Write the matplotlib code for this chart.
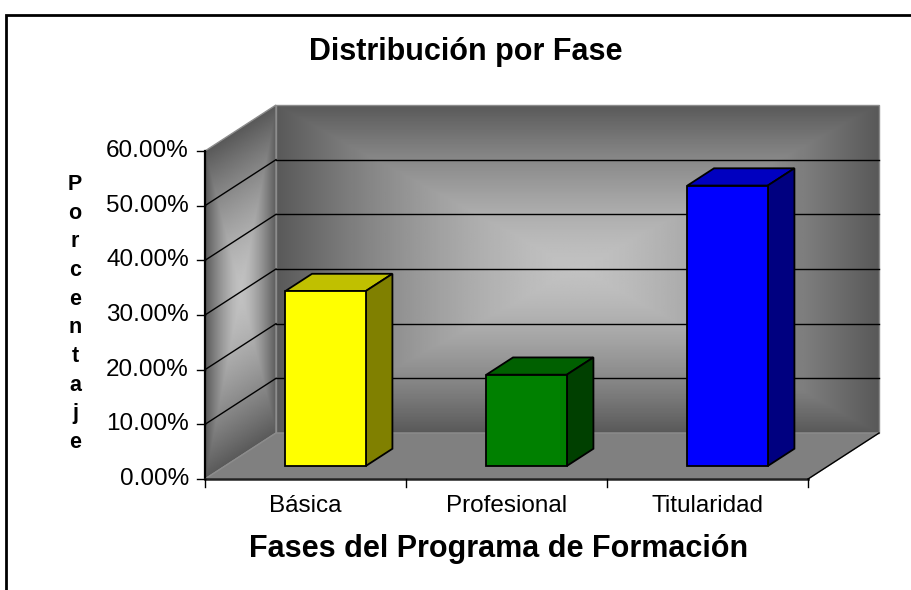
import numpy as np
import matplotlib.pyplot as plt
from matplotlib.patches import Polygon, Rectangle

# data
fases = ["Básica", "Profesional", "Titularidad"]
porcentajes = [32.0, 16.7, 51.3]
colores_frente = ["#ffff00", "#008000", "#0000ff"]
colores_techo = ["#c0c000", "#006000", "#0000c0"]
colores_lado = ["#808000", "#004000", "#000080"]
yticks = [0, 10, 20, 30, 40, 50, 60]

plt.rcParams["font.family"] = ["Liberation Sans", "DejaVu Sans"]

W, H = 912, 590
fig = plt.figure(figsize=(W / 100, H / 100), dpi=100)
ax = fig.add_axes([0, 0, 1, 1])

# pixel layout of the 3d box (front: x 205..808, y 479..151)
PX_X = 201.0          # px per category
PX_Y = 328.0 / 60     # px per percent
DX = 71 / PX_X        # depth offset in x units
DY = 46 / PX_Y        # depth offset in y units
ax.set_xlim(-205 / PX_X, (W - 205) / PX_X)
ax.set_ylim((479 - H) / PX_Y, 479 / PX_Y)
ax.axis("off")

ncat = len(fases)
ymax = 60


def proj(x, y, d):
    return (x + d * DX, y + d * DY)


def grad_color(t):
    light, dark = 0.76, 0.35
    return dark + (light - dark) * (1 - t)


# back wall gradient
nx, ny = 300, 200
u = np.linspace(-1, 1, nx)
v = np.linspace(-1, 1, ny)
U, V = np.meshgrid(u, v)
T = np.maximum(np.abs(U), np.abs(V)) ** 1.5
img = grad_color(T)
back = Polygon([proj(0, 0, 1), proj(ncat, 0, 1), proj(ncat, ymax, 1), proj(0, ymax, 1)],
               closed=True, facecolor="none", edgecolor="#8c8c8c", lw=1, zorder=2)
ax.add_patch(back)
im = ax.imshow(img, cmap="gray", vmin=0, vmax=1, origin="lower", aspect="auto",
               extent=[DX, ncat + DX, DY, ymax + DY], zorder=1, interpolation="bilinear")
im.set_clip_path(back)

# side wall gradient
X, Y = np.meshgrid(np.linspace(0, DX, 80), np.linspace(0, ymax + DY, 300))
s = X / DX
hv = (Y - s * DY) / ymax
T2 = np.maximum(np.abs(2 * s - 1), np.abs(2 * hv - 1)) ** 1.5
side = Polygon([proj(0, 0, 0), proj(0, 0, 1), proj(0, ymax, 1), proj(0, ymax, 0)],
               closed=True, facecolor="none", edgecolor="#8c8c8c", lw=1, zorder=2)
ax.add_patch(side)
im2 = ax.imshow(grad_color(T2), cmap="gray", vmin=0, vmax=1, origin="lower", aspect="auto",
                extent=[0, DX, 0, ymax + DY], zorder=1, interpolation="bilinear")
im2.set_clip_path(side)

# floor
floor = Polygon([proj(0, 0, 0), proj(ncat, 0, 0), proj(ncat, 0, 1), proj(0, 0, 1)],
                closed=True, facecolor="#808080", edgecolor="#8c8c8c", lw=1, zorder=2)
ax.add_patch(floor)

# gridlines on back and side walls
for yt in yticks[1:-1]:
    x0, y0 = proj(0, yt, 1)
    x1, y1 = proj(ncat, yt, 1)
    ax.plot([x0, x1], [y0, y1], color="black", lw=1, zorder=3)
    ax.plot([0, x0], [yt, y0], color="black", lw=1, zorder=3)

# bars
d0, d1 = 0.283, 0.658
half = 0.2
for i, val in enumerate(porcentajes):
    xa, xb = i + 0.5 - half, i + 0.5 + half
    techo = [proj(xa, val, d0), proj(xb, val, d0), proj(xb, val, d1), proj(xa, val, d1)]
    lado = [proj(xb, 0, d0), proj(xb, val, d0), proj(xb, val, d1), proj(xb, 0, d1)]
    frente = [proj(xa, 0, d0), proj(xb, 0, d0), proj(xb, val, d0), proj(xa, val, d0)]
    for pts, col in [(techo, colores_techo[i]), (lado, colores_lado[i]), (frente, colores_frente[i])]:
        ax.add_patch(Polygon(pts, closed=True, facecolor=col, edgecolor="black",
                             lw=1.3, joinstyle="miter", zorder=5))

# axes lines
ax.plot([0, 0], [0, ymax], color="black", lw=1.6, zorder=6)
ax.plot([0, ncat], [0, 0], color="#222222", lw=1.8, zorder=6)
ax.plot([ncat, ncat + DX], [0, DY], color="black", lw=1, zorder=6)
tick_x = 8 / PX_X
tick_y = 8 / PX_Y
for yt in yticks:
    ax.plot([-tick_x, 0], [yt, yt], color="black", lw=1, zorder=6)
    ax.text(-16 / PX_X, yt, f"{yt:.2f}%", ha="right", va="center", fontsize=17.5, zorder=7)
for k in range(ncat + 1):
    ax.plot([k, k], [0, -tick_y], color="black", lw=1, zorder=6)
for i, name in enumerate(fases):
    ax.text(i + 0.5, -33 / PX_Y, name, ha="center", va="baseline", fontsize=17.5)

# titles
fig.text(466 / W, 1 - 60 / H, "Distribución por Fase", ha="center", va="baseline",
         fontsize=22, fontweight="bold")
fig.text(499 / W, 1 - 557 / H, "Fases del Programa de Formación", ha="center", va="baseline",
         fontsize=22, fontweight="bold")
for k, ch in enumerate("Porcentaje"):
    fig.text(75 / W, 1 - (190 + k * 28.67) / H, ch, ha="center", va="baseline",
             fontsize=15.5, fontweight="bold")

# outer frame
fig.patches.append(Rectangle((6 / W, -0.1), 1.2, 1.1 - 15 / H, transform=fig.transFigure,
                             fill=False, edgecolor="black", lw=2, clip_on=False))

fig.savefig("out.png", dpi=100)
